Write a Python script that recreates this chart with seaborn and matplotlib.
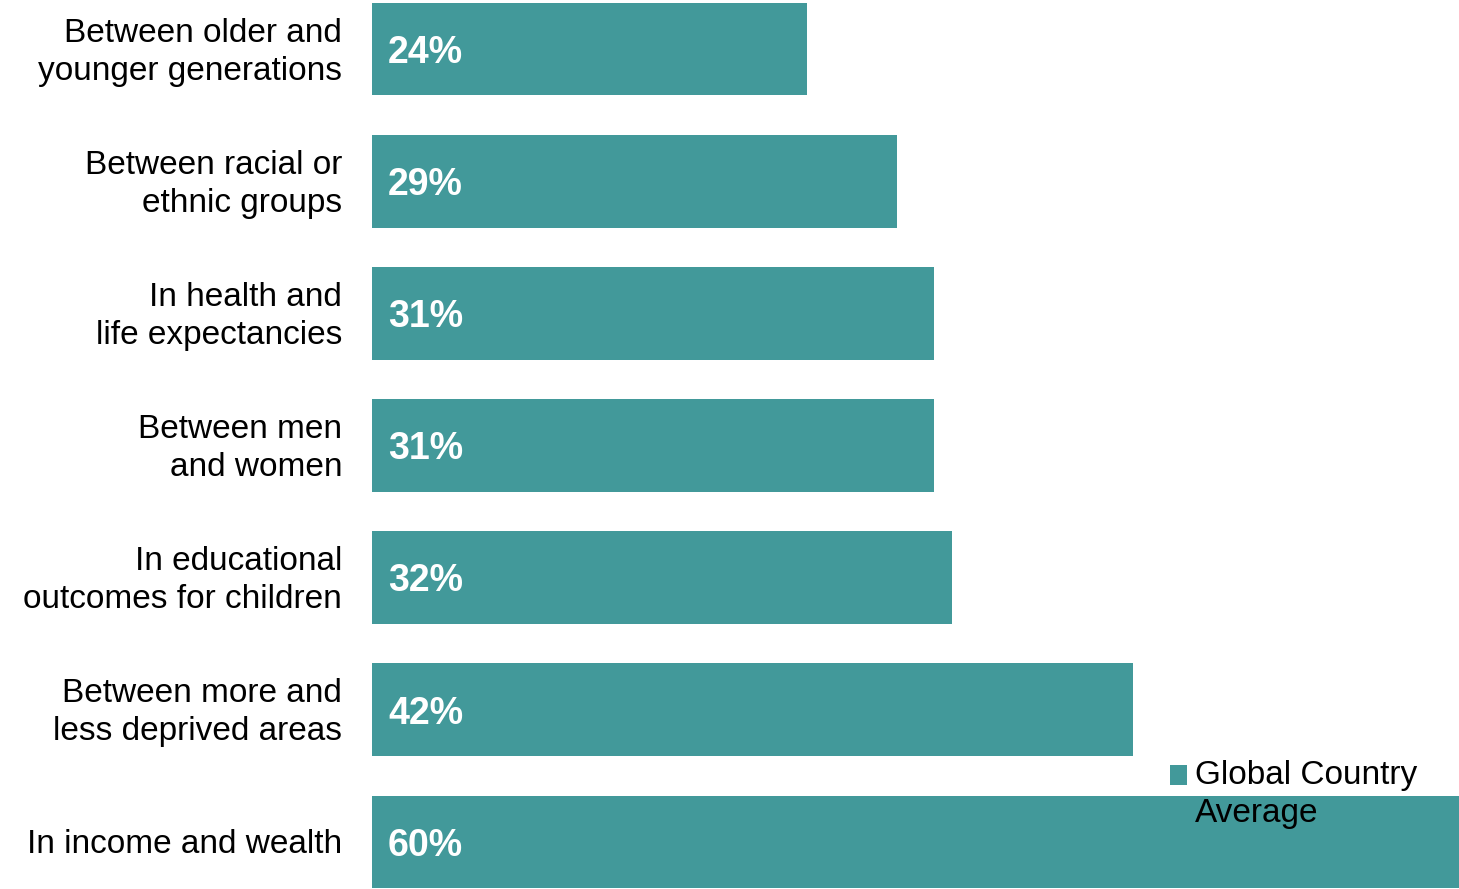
import textwrap

import matplotlib
matplotlib.use("Agg")
import matplotlib.pyplot as plt
import matplotlib.transforms as mtransforms
import pandas as pd
import seaborn as sns

# Share of respondents naming each inequality as most serious
categories = [
    "Between older and\nyounger generations",
    "Between racial or\nethnic groups",
    "In health and\nlife expectancies",
    "Between men\nand women",
    "In educational\noutcomes for children",
    "Between more and\nless deprived areas",
    "In income and wealth",
]
values = [24, 29, 31, 31, 32, 42, 60]
series_name = "Global Country Average"

BAR_COLOR = "#42999A"

df = pd.DataFrame({"category": categories, "value": values, "series": series_name})

sns.set_theme(style="white")
plt.rcParams["font.family"] = ["Liberation Sans", "DejaVu Sans"]
plt.rcParams["text.color"] = "black"

fig = plt.figure(figsize=(14.59, 8.89), dpi=100)
ax = fig.add_axes([372 / 1459, 1 / 889, 1 - 372 / 1459, 885 / 889])

sns.barplot(
    data=df, x="value", y="category", hue="series", orient="h",
    palette=[BAR_COLOR], width=0.7, saturation=1, linewidth=0,
    ax=ax, legend=True,
)

ax.set_xlim(0, 60)
ax.set_ylim(len(categories) - 0.65, -0.35)
ax.set_xlabel("")
ax.set_ylabel("")
ax.set_xticks([])
for s in ax.spines.values():
    s.set_visible(False)
ax.tick_params(axis="y", length=0, pad=21.6, labelsize=24, labelcolor="black")
nudge = mtransforms.ScaledTranslation(0, -2.2 / 72, fig.dpi_scale_trans)
for lbl in ax.get_yticklabels():
    lbl.set_horizontalalignment("right")
    lbl.set_verticalalignment("center")
    lbl.set_linespacing(1.28)
    lbl.set_transform(lbl.get_transform() + nudge)

# Value labels sit just inside the base of each bar
for i, v in enumerate(values):
    ax.annotate(f"{v}%", xy=(0, i), xytext=(11.5, -10), textcoords="offset points",
                ha="left", va="baseline", color="white", fontsize=27,
                fontweight="bold")

handles, _ = ax.get_legend_handles_labels()
leg = ax.legend(
    handles, [textwrap.fill(series_name, 14)],
    loc="upper left", bbox_to_anchor=(1170 / 1459, 1 - 760 / 889),
    bbox_transform=fig.transFigure, frameon=False, fontsize=24,
    borderpad=0, borderaxespad=0, handlelength=0.52, handleheight=0.52,
    handletextpad=0.24, labelspacing=0,
)
for t in leg.get_texts():
    t.set_linespacing(1.28)
    t.set_color("black")
# keep the swatch level with the first line of the wrapped label
for h in leg.legend_handles:
    h.set_linewidth(0)
    h.set_y(h.get_y() + 14)

fig.savefig("out.png", dpi=100)
